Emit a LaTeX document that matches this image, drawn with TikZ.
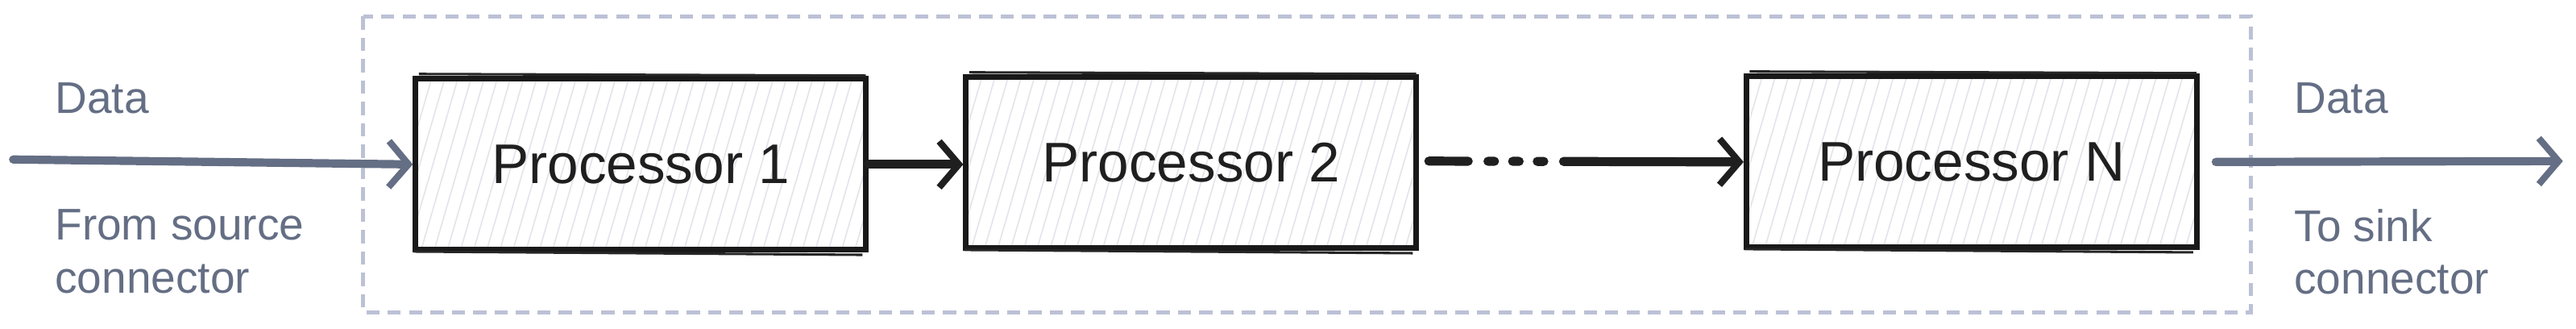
\documentclass[tikz,border=0pt]{standalone}
\usepackage{fontspec}
\setmainfont{Liberation Sans}
\usetikzlibrary{arrows.meta}
\definecolor{lbl}{HTML}{646E84}
\definecolor{frame}{HTML}{BCC1D6}
\definecolor{hatch}{HTML}{E4E4EA}
\begin{document}
\begin{tikzpicture}[x=1pt,y=-1pt,
  proc/.style={draw=black!90,line width=3.4pt,minimum width=274pt,minimum height=104pt,inner sep=0pt,font=\fontsize{34}{34}\selectfont,text=black!88},
  lab/.style={anchor=west,text=lbl,font=\fontsize{27}{32}\selectfont,align=left},
  garrow/.style={draw=lbl,line width=5pt,line cap=round,-{Straight Barb[length=12pt,width=28pt,line width=4pt]}},
  karrow/.style={draw=black!88,line width=5.5pt,line cap=round,-{Straight Barb[length=12pt,width=28pt,line width=4pt]}}]
\useasboundingbox (0,0) rectangle (1568,200);
\draw[frame,line width=2.2pt,dash pattern=on 8pt off 5pt] (221,10) rectangle (1370,190);
\foreach \n/\x/\y/\t in {p1/390/100/Processor 1,p2/725/99/Processor 2,pn/1200/98.5/Processor N}{
  \begin{scope}
  \clip (\x-137,\y-52) rectangle (\x+137,\y+52);
  \foreach \i in {-160,-152,...,300}{\draw[hatch,line width=0.8pt] (\x+\i,\y+60) -- (\x+\i+35,\y-60);}
  \end{scope}
  \node[proc] (\n) at (\x,\y) {\t};
  \draw[black!85,line width=1.5pt] (\x-135,\y-55) -- (\x+137,\y-54);
  \draw[black!85,line width=1.5pt] (\x-138,\y+53) -- (\x+135,\y+55);
}
\coordinate (in) at (8,97);
\coordinate (out) at (1560,98);
\draw[garrow] (in) -- (p1.west);
\draw[karrow] (p1.east) -- (p2.west |- p1.east);
\draw[karrow,dash pattern=on 24pt off 12pt on 4pt off 11pt on 4pt off 11pt on 4pt off 12pt on 200pt] (p2.east) ++(6,-1) -- (pn.west);
\draw[garrow] (pn.east) ++(10,0) -- (out);
\node[lab] (d1) at (30,60) {Data};
\node[lab] (s1) at (30,153) {From source\\connector};
\node[lab] (d2) at (1393,60) {Data};
\node[lab] (s2) at (1393,153) {To sink\\connector};
\end{tikzpicture}
\end{document}
